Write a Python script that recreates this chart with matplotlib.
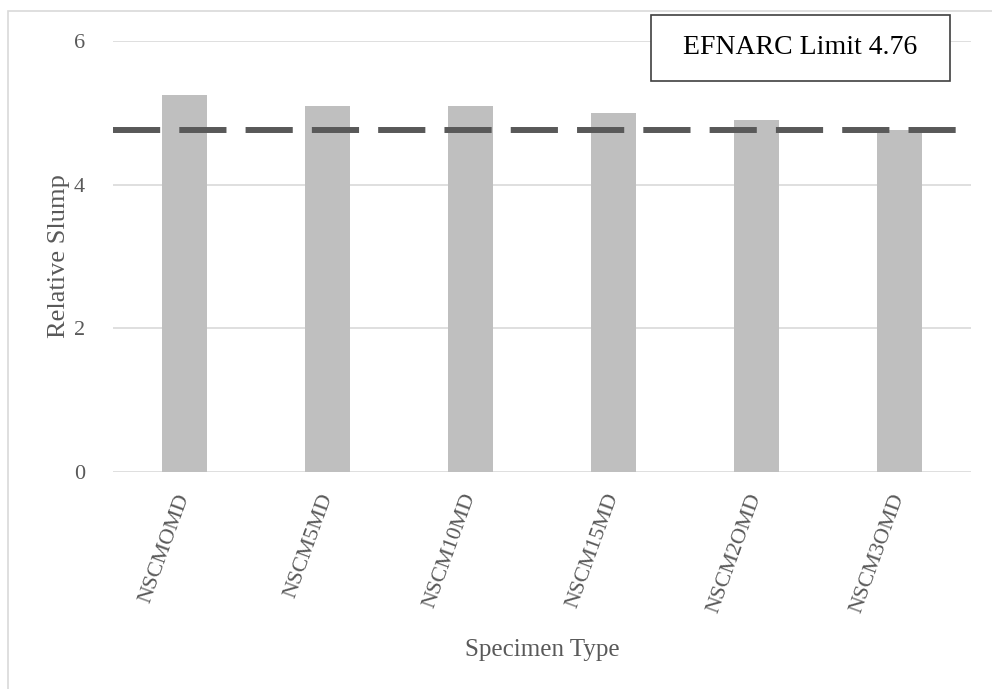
import matplotlib
matplotlib.use("Agg")
import matplotlib.pyplot as plt
from matplotlib.patches import Rectangle

# data
specimens = ['NSCMOMD', 'NSCM5MD', 'NSCM10MD', 'NSCM15MD', 'NSCM2OMD', 'NSCM3OMD']
slump = [5.25, 5.1, 5.1, 5.0, 4.9, 4.76]
efnarc_limit = 4.76

plt.rcParams['font.family'] = ['Liberation Serif', 'DejaVu Serif']
txt = '#595959'

W, H = 992, 689
fig = plt.figure(figsize=(W / 100, H / 100), dpi=100)
ax = fig.add_axes([113 / W, (H - 472) / H, (971 - 113) / W, (472 - 41) / H])

# outer chart border (partly cut off at right/bottom)
fig.patches.append(Rectangle((8 / W, -0.1), 1.1, (H - 11) / H + 0.1,
                             transform=fig.transFigure, fill=False,
                             edgecolor='#D9D9D9', lw=1.2))

x = range(len(specimens))
ax.bar(x, slump, width=0.31, color='#BFBFBF', zorder=2)
lim = ax.axhline(efnarc_limit, color='#595959', lw=4.3, zorder=3)
lim.set_dashes((7.9, 3.2))

ax.set_xlim(-0.5, len(specimens) - 0.5)
ax.set_ylim(0, 6)
ax.set_yticks([0, 2, 4, 6])
ax.yaxis.grid(True, color='#D9D9D9', lw=1.2, zorder=0)
ax.set_axisbelow(True)
for s in ax.spines.values():
    s.set_visible(False)

ax.set_xticks(list(x))
ax.set_xticklabels(specimens, rotation=70, ha='right', va='center',
                   rotation_mode='anchor', fontsize=16, color=txt)
ax.tick_params(axis='x', length=0, pad=16)
ax.tick_params(axis='y', length=0, pad=20, labelsize=16, labelcolor=txt)

fig.text(542 / W, 1 - 650 / H, 'Specimen Type', fontsize=18, color=txt,
         ha='center', va='center')
fig.text(59 / W, 1 - 256 / H, 'Relative Slump', fontsize=19, color=txt,
         ha='center', va='center', rotation=90)

# annotation box
fig.patches.append(Rectangle((651 / W, 1 - 81 / H), (950 - 651) / W, 66 / H,
                             transform=fig.transFigure, facecolor='white',
                             edgecolor='#404040', lw=1.2, zorder=5))
fig.text(800 / W, 1 - 47 / H, 'EFNARC Limit 4.76', fontsize=20, color='black',
         ha='center', va='center', zorder=6)

fig.savefig('out.png', dpi=100)
